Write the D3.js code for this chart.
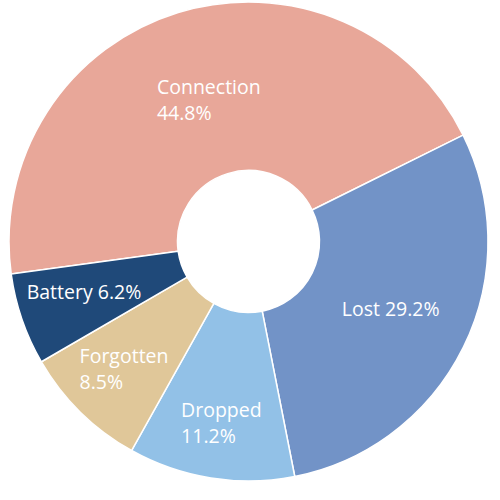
<!DOCTYPE html>
<html>
<head>
<meta charset="utf-8">
<script src="https://cdn.jsdelivr.net/npm/d3@7"></script>
<style>
  html, body { margin: 0; padding: 0; background: #fff; }
  svg { display: block; }
  text { font-family: "Open Sans", "Noto Sans", sans-serif; fill: #fff; }
</style>
</head>
<body>
<svg id="chart" width="500" height="500"></svg>
<script>
// Reasons, shares (%) and slice colours
const categories = ["Connection", "Lost", "Dropped", "Forgotten", "Battery"];
const shares = [44.8, 29.2, 11.2, 8.5, 6.2];
const colors = ["#E8A799", "#7293C7", "#92C1E7", "#E0C799", "#1F4979"];
// Label lines per slice (second line optional)
const labelLines = [
  ["Connection", "44.8%"],
  ["Lost 29.2%"],
  ["Dropped", "11.2%"],
  ["Forgotten", "8.5%"],
  ["Battery 6.2%"]
];

// Layout
const cx = 248.5, cy = 241.5;
const outerR = 239.5, innerR = 71;
const startDeg = -97.8;
const lineGap = 26;
// Offset of each label's first baseline from its slice centroid
const labelOffsets = [[-46, 1], [-46, 6], [-43, 22], [-60, 11], [-75, 7]];

const data = categories.map((c, i) => ({ name: c, value: shares[i], color: colors[i], lines: labelLines[i], off: labelOffsets[i] }));

const pie = d3.pie()
  .sort(null)
  .value(d => d.value)
  .startAngle(startDeg * Math.PI / 180)
  .endAngle(startDeg * Math.PI / 180 + 2 * Math.PI);

const arc = d3.arc().innerRadius(innerR).outerRadius(outerR);

const svg = d3.select("#chart");
const g = svg.append("g").attr("transform", `translate(${cx},${cy})`);

const arcs = pie(data);

g.selectAll("path.slice")
  .data(arcs)
  .join("path")
  .attr("class", "slice")
  .attr("d", arc)
  .attr("fill", d => d.data.color)
  .attr("stroke", "#fff")
  .attr("stroke-width", 1.5)
  .attr("stroke-linejoin", "round");

const labels = g.selectAll("text.label")
  .data(arcs)
  .join("text")
  .attr("class", "label")
  .attr("font-size", 19.5)
  .attr("transform", d => {
    const [x, y] = arc.centroid(d);
    return `translate(${x + d.data.off[0]},${y + d.data.off[1]})`;
  });

labels.selectAll("tspan")
  .data(d => d.data.lines)
  .join("tspan")
  .attr("x", 0)
  .attr("y", (t, i) => i * lineGap)
  .text(t => t);
</script>
</body>
</html>
